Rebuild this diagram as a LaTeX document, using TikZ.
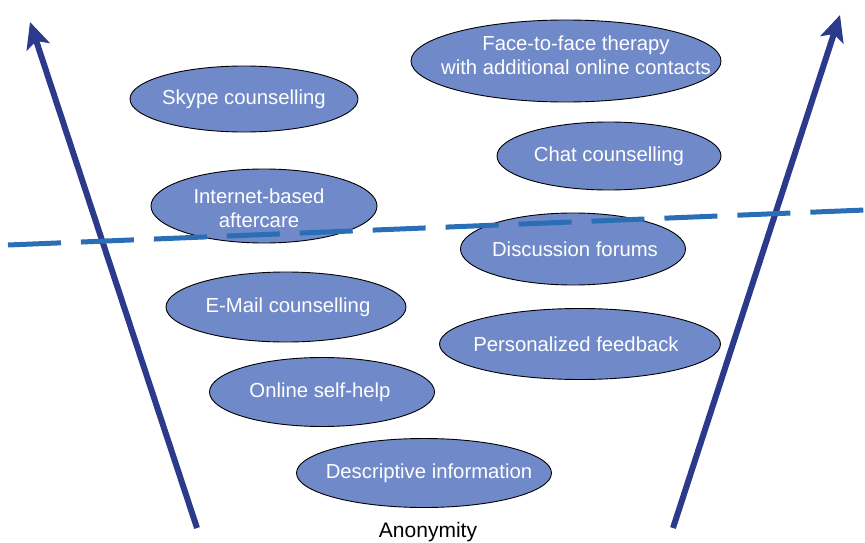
\documentclass[tikz,border=0pt]{standalone}
\usepackage{fontspec}
\setmainfont{Liberation Sans}
\usetikzlibrary{shapes.geometric,arrows.meta}
\definecolor{ellfill}{HTML}{7089C9}
\definecolor{arrblue}{HTML}{2B3A8A}
\definecolor{dashblue}{HTML}{2A6EB5}
\tikzset{
  ell/.style={ellipse, draw=black, line width=0.9pt, fill=ellfill, inner sep=0pt},
  lbl/.style={text=white, inner sep=0pt, align=center, font=\fontsize{20.3}{23.5}\selectfont},
  bigarrow/.style={arrblue, line width=6pt, -{Stealth[length=26pt,width=24pt,inset=6pt]}},
  divider/.style={dashblue, line width=5pt, dash pattern=on 53pt off 20pt}
}
\begin{document}
\begin{tikzpicture}[x=1pt,y=-1pt]
\useasboundingbox (0,0) rectangle (865,543);
\node[ell, minimum width=228pt, minimum height=66pt, label={[lbl]center:Skype counselling}] (skype) at (244,99) {};
\node[ell, minimum width=310pt, minimum height=82pt, label={[lbl, xshift=10pt, yshift=6pt]center:Face-to-face therapy\\with additional online contacts}] (f2f) at (566,61) {};
\node[ell, minimum width=224pt, minimum height=68pt, label={[lbl]center:Chat counselling}] (chat) at (609,156) {};
\node[ell, minimum width=226pt, minimum height=74pt, label={[lbl, xshift=-5pt, yshift=-2pt]center:Internet-based\\aftercare}] (after) at (264,206) {};
\node[ell, minimum width=225pt, minimum height=72pt, label={[lbl, xshift=2pt]center:Discussion forums}] (forum) at (573,249) {};
\node[ell, minimum width=240pt, minimum height=70pt, label={[lbl, xshift=2pt]center:E-Mail counselling}] (mail) at (286,307) {};
\node[ell, minimum width=281pt, minimum height=71pt, label={[lbl, xshift=-4pt]center:Personalized feedback}] (feed) at (580,344) {};
\node[ell, minimum width=225pt, minimum height=69pt, label={[lbl, xshift=-2pt]center:Online self-help}] (self) at (322,392) {};
\node[ell, minimum width=255pt, minimum height=69pt, label={[lbl, xshift=5pt]center:Descriptive information}] (desc) at (424,473) {};
\node[font=\fontsize{21}{24}\selectfont, inner sep=0pt] (anon) at (428,532) {Anonymity};
\coordinate (lb) at (197,528);
\coordinate (lt) at (30,22);
\coordinate (rb) at (673,528);
\coordinate (rt) at (840,15);
\draw[bigarrow] (lb) -- (lt);
\draw[bigarrow] (rb) -- (rt);
\coordinate (dl) at (8,245);
\coordinate (dr) at (865,210);
\draw[divider] (dl) -- (dr);
\end{tikzpicture}
\end{document}
